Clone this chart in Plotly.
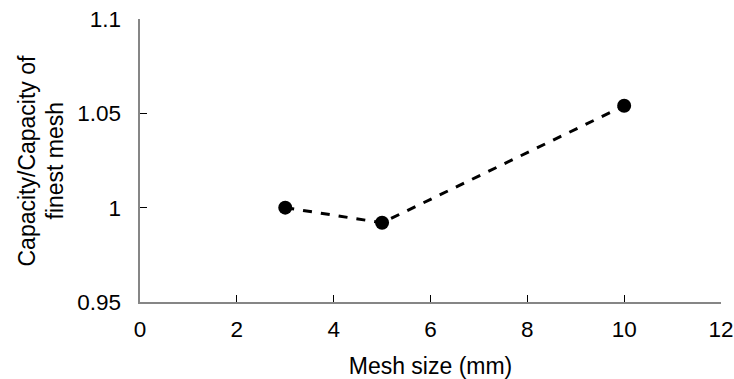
import plotly.graph_objects as go

mesh_size = [3, 5, 10]
capacity_ratio = [1.0, 0.992, 1.054]

x_ticks = [0, 2, 4, 6, 8, 10, 12]
y_ticks = [0.95, 1.0, 1.05, 1.1]
y_tick_labels = ["0.95", "1", "1.05", "1.1"]
y_title_lines = ["Capacity/Capacity of", "finest mesh"]

FONT = "Liberation Sans, Arial, sans-serif"
AXIS_COLOR = "#868686"
PAD = "\u00a0\u00a0"

fig = go.Figure()
fig.add_trace(go.Scatter(
    x=mesh_size, y=capacity_ratio, mode="lines+markers",
    line=dict(color="black", width=3, dash="dash"),
    marker=dict(color="black", size=14),
    showlegend=False,
))

fig.update_layout(
    width=734, height=379,
    margin=dict(l=140, r=13, t=19, b=77),
    paper_bgcolor="white", plot_bgcolor="white",
    font=dict(family=FONT, size=22.5, color="black"),
    xaxis=dict(
        range=[0, 12], tickvals=x_ticks, ticks="inside", ticklen=7,
        tickcolor="black", tickwidth=1,
        showline=True, linecolor=AXIS_COLOR, linewidth=2,
        showgrid=False, zeroline=False, automargin=False,
        ticklabelstandoff=6,
        title=dict(text="Mesh size (mm)", standoff=20, font=dict(size=23)),
    ),
    yaxis=dict(
        range=[0.95, 1.1], tickvals=y_ticks,
        ticktext=[t + PAD for t in y_tick_labels],
        ticks="inside", ticklen=7, tickcolor="black", tickwidth=1,
        showline=True, linecolor=AXIS_COLOR, linewidth=2,
        showgrid=False, zeroline=False, automargin=False,
    ),
)

for line_text, xpos in zip(y_title_lines, [-0.1945, -0.1480]):
    fig.add_annotation(
        text=line_text, textangle=-90,
        xref="paper", yref="paper", x=xpos, y=0.5,
        xanchor="center", yanchor="middle", showarrow=False,
        font=dict(size=23),
    )

fig.write_html("out.html", config={"displayModeBar": False},
               post_script="document.body.style.margin='0';document.body.style.overflow='hidden';")
